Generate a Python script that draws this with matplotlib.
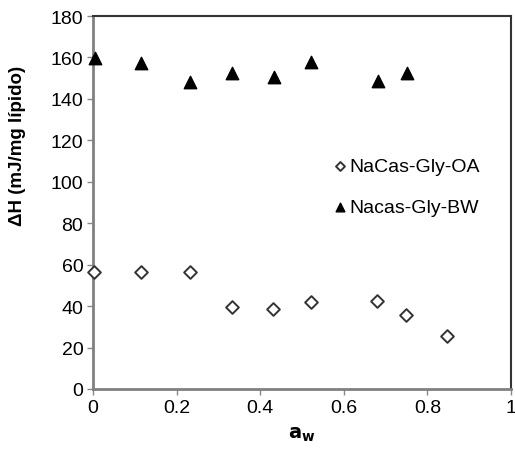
import matplotlib
matplotlib.use("Agg")
import matplotlib.pyplot as plt

aw_oa = [0.003, 0.115, 0.233, 0.332, 0.431, 0.521, 0.679, 0.749, 0.846]
dh_oa = [56.6, 56.6, 56.6, 39.7, 38.6, 41.8, 42.6, 35.7, 25.7]
aw_bw = [0.005, 0.116, 0.233, 0.332, 0.433, 0.522, 0.683, 0.751]
dh_bw = [159.7, 157.3, 148.3, 152.5, 150.6, 157.7, 148.8, 152.5]
xticks = [0, 0.2, 0.4, 0.6, 0.8, 1]
yticks = [0, 20, 40, 60, 80, 100, 120, 140, 160, 180]

plt.rcParams['font.family'] = ['Liberation Sans', 'DejaVu Sans']

fig = plt.figure(figsize=(5.15, 4.52), dpi=100)
ax = fig.add_axes([93/515, 1 - 390/452, (511-93)/515, (390-17)/452])

ax.scatter(aw_oa, dh_oa, marker='D', s=42, facecolors='white', edgecolors='#333333',
           linewidths=1.4, label='NaCas-Gly-OA', zorder=3, clip_on=False)
ax.scatter(aw_bw, dh_bw, marker='^', s=80, color='black', label='Nacas-Gly-BW',
           zorder=3, clip_on=False)

ax.set_xlim(0, 1)
ax.set_ylim(0, 180)
ax.set_xticks(xticks)
ax.set_xticklabels(['0', '0.2', '0.4', '0.6', '0.8', '1'])
ax.set_yticks(yticks)
ax.tick_params(labelsize=14, length=4, width=1, color='#888888', pad=3)

for s in ['left', 'bottom']:
    ax.spines[s].set_color('#808080')
    ax.spines[s].set_linewidth(2)
for s in ['top', 'right']:
    ax.spines[s].set_color('#333333')
    ax.spines[s].set_linewidth(1.5)

ax.set_ylabel('ΔH (mJ/mg lípido)', fontsize=13.5, fontweight='bold')
ax.yaxis.set_label_coords(-0.16, 0.655)
ax.set_xlabel(r'$\mathbf{a_w}$', fontsize=14)
ax.xaxis.set_label_coords(0.5, -0.095)

leg = ax.legend(loc='center left', bbox_to_anchor=(0.52, 0.542), frameon=False,
                fontsize=14, handletextpad=-0.1, labelspacing=1.2, markerscale=0.7,
                handlelength=1.2)

fig.savefig('out.png', dpi=100)
